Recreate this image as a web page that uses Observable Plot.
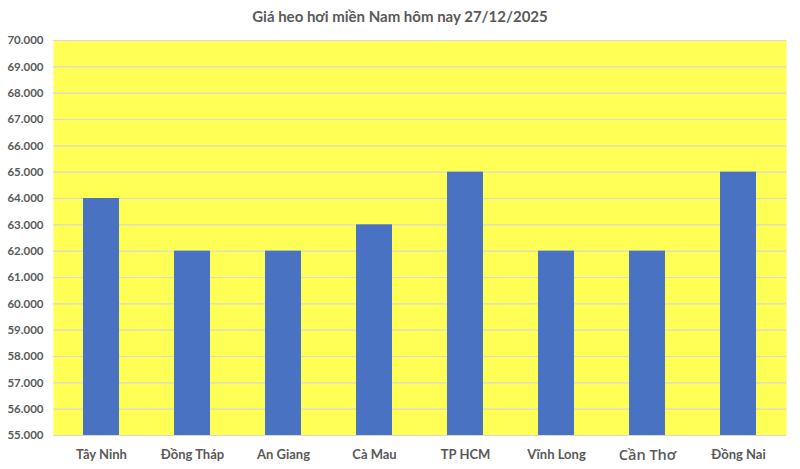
<!DOCTYPE html>
<html>
<head>
<meta charset="utf-8">
<script src="https://cdn.jsdelivr.net/npm/d3@7"></script>
<script src="https://cdn.jsdelivr.net/npm/@observablehq/plot@0.6"></script>
<style>
  html, body { margin: 0; padding: 0; background: #fff; }
  #wrap { width: 800px; height: 469px; position: relative; overflow: hidden; font-family: Lato, "Open Sans", sans-serif; }
  #title { height: 30px; line-height: 32px; text-align: center; font-size: 15px; font-weight: bold; color: #595959; }
</style>
</head>
<body>
<div id="wrap">
  <div id="title">Giá heo hơi miền Nam hôm nay 27/12/2025</div>
  <div id="chart"></div>
</div>
<script>
const provinces = ["Tây Ninh", "Đồng Tháp", "An Giang", "Cà Mau", "TP HCM", "Vĩnh Long", "Cần Thơ", "Đồng Nai"];
const prices = [64000, 62000, 62000, 63000, 65000, 62000, 62000, 65000];
const yTicks = [55000, 56000, 57000, 58000, 59000, 60000, 61000, 62000, 63000, 64000, 65000, 66000, 67000, 68000, 69000, 70000];

const data = provinces.map((p, i) => ({province: p, price: prices[i]}));
const fmt = d => d3.format(",")(d).replace(/,/g, ".");

const chart = Plot.plot({
  width: 800,
  height: 439,
  marginTop: 10,
  marginBottom: 34,
  marginLeft: 53,
  marginRight: 14,
  style: {fontFamily: "Lato, 'Open Sans', sans-serif", color: "#595959", background: "transparent"},
  x: {domain: provinces, paddingInner: 0.6, paddingOuter: 0.3, label: null},
  y: {domain: [55000, 70000], label: null},
  marks: [
    Plot.frame({fill: "#FFFF55", stroke: null}),
    Plot.gridY(yTicks, {stroke: "#D9D9D9", strokeOpacity: 1, strokeWidth: 1.2}),
    Plot.barY(data, {x: "province", y1: 55000, y2: "price", fill: "#4A72C2"}),
    Plot.axisY(yTicks, {tickSize: 0, tickPadding: 10, tickFormat: fmt, fontSize: 11.5, fontWeight: "bold", fill: "#595959"}),
    Plot.axisX({tickSize: 0, tickPadding: 14, fontSize: 13, fontWeight: "bold", fill: "#595959"})
  ]
});
document.getElementById("chart").appendChild(chart);
chart.querySelectorAll("text").forEach(t => {
  if (t.textContent === "Cần Thơ") {
    t.setAttribute("font-size", "14.5");
    t.setAttribute("font-weight", "600");
    t.style.fontWeight = "600";
    t.style.fontSize = "14.5px";
    t.style.fontFamily = "'Open Sans', sans-serif";
  }
});
</script>
</body>
</html>
